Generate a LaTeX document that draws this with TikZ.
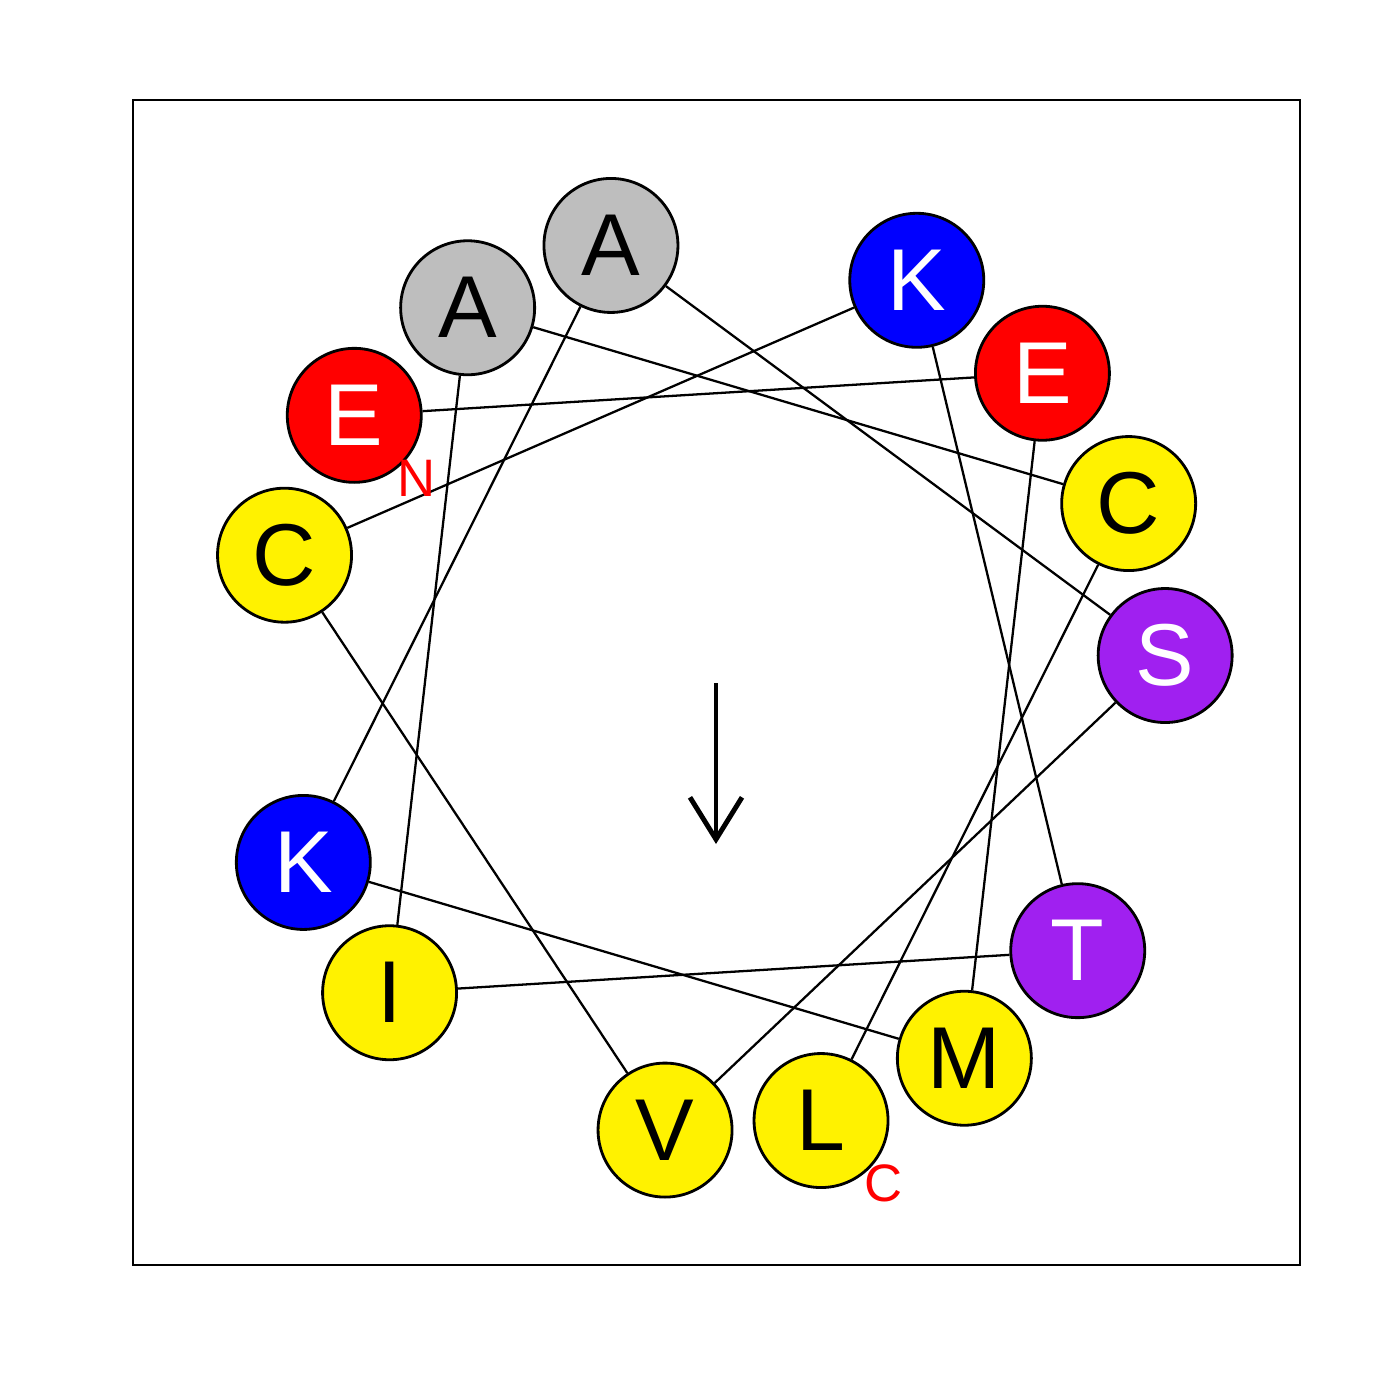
\documentclass[tikz,border=0pt]{standalone}
\usepackage{fontspec}
\setmainfont{Liberation Sans}
\usetikzlibrary{arrows.meta,calc}
\definecolor{wheelgrey}{RGB}{190,190,190}
\definecolor{wheelpurple}{RGB}{160,32,240}

\begin{document}
\begin{tikzpicture}
  \tikzset{
    res/.style={circle, draw, line width=0.8pt, minimum size=1.34cm, inner sep=0pt,
      font=\fontsize{25}{28}\selectfont},
    acid/.style={fill=red, text=white},
    base/.style={fill=blue, text=white},
    polar/.style={fill=wheelpurple, text=white},
    hydro/.style={fill=yellow, text=black},
    ala/.style={fill=wheelgrey, text=black},
    link/.style={line width=0.65pt},
    termlabel/.style={text=red, font=\fontsize{15}{18}\selectfont, inner sep=0pt}
  }
  \useasboundingbox (-7.16,-7.20) rectangle (6.84,6.80);
  \draw[line width=0.8pt] (-5.83,-5.85) rectangle (5.84,5.80);

  % residues on the wheel, 100 degrees apart
  \coordinate (centre) at (0,-0.03);
  \foreach \res/\kind [count=\i from 0] in {E/acid,E/acid,M/hydro,K/base,A/ala,S/polar,V/hydro,
      C/hydro,K/base,T/polar,I/hydro,A/ala,C/hydro,L/hydro} {
    \node[res, \kind] (R\i) at ($(centre)+({143.5-100*\i}:4.5)$) {\res};
  }

  % backbone from one residue to the next
  \foreach \i in {0,...,12} {
    \pgfmathtruncatemacro{\j}{\i+1}
    \draw[link] (R\i) -- (R\j);
  }

  \node[termlabel] (Nterm) at ($(R0)+(0.62,-0.63)$) {N};
  \node[termlabel] (Cterm) at ($(R13)+(0.62,-0.63)$) {C};

  % moment arrow
  \coordinate (head) at (0,-1.64);
  \draw[line width=1.4pt, -{Straight Barb[length=0.42cm, width=0.52cm]}] (centre) -- (head);
\end{tikzpicture}
\end{document}
